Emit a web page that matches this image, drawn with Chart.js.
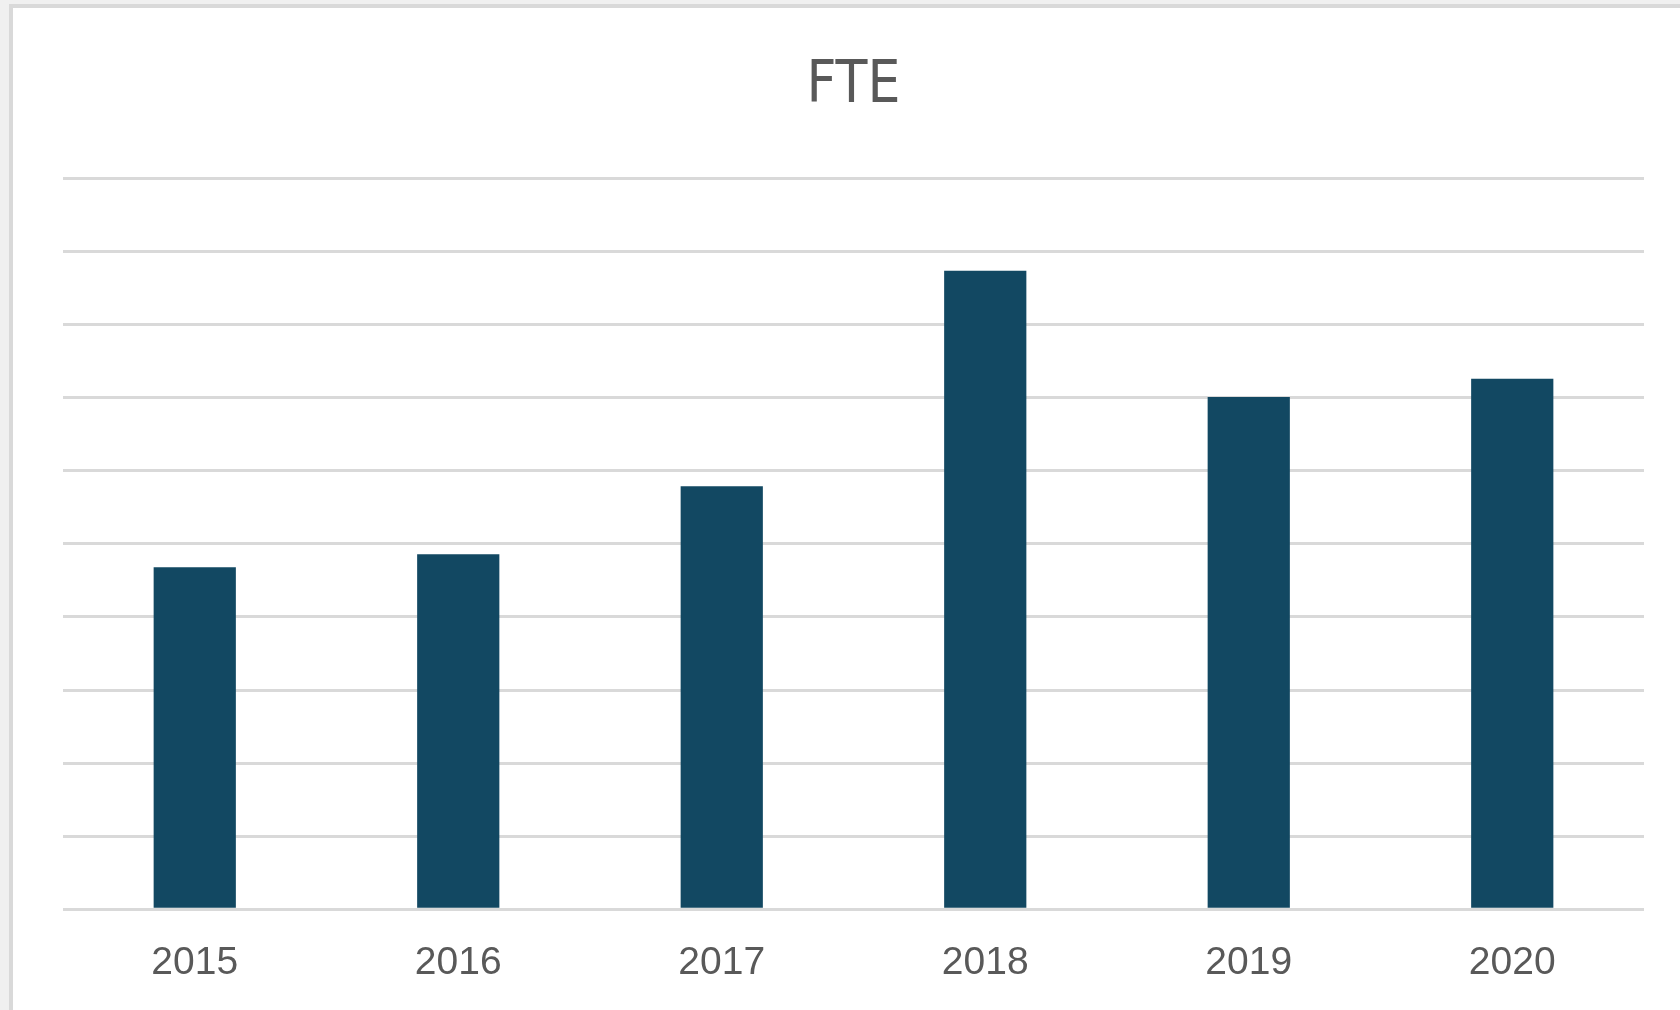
<!DOCTYPE html>
<html>
<head>
<meta charset="utf-8">
<script src="https://cdn.jsdelivr.net/npm/chart.js@4"></script>
<style>
    html, body { margin: 0; padding: 0; background: #f0f0f0; overflow: hidden; width: 1680px; height: 1010px; }
    .panel {
        position: absolute; left: 9px; top: 4px; width: 1700px; height: 1100px;
        background: #fff; border-left: 4px solid #d9d9d9; border-top: 4px solid #d9d9d9;
    }
    .chart-box { position: absolute; left: 0; top: 0; width: 1680px; height: 1050px; }
</style>
</head>
<body>
<div class="panel"></div>
<div class="chart-box">
    <canvas id="fte"></canvas>
</div>
<script>
const years = ['2015', '2016', '2017', '2018', '2019', '2020'];
const fteValues = [4.68, 4.86, 5.79, 8.74, 7.01, 7.26];
const yMin = 0;
const yMax = 10;
const yStep = 1;

const textGrey = '#595959';
const barColor = '#124862';

new Chart(document.getElementById('fte'), {
    type: 'bar',
    data: {
        labels: years,
        datasets: [{
            label: 'FTE',
            data: fteValues,
            backgroundColor: barColor,
            borderWidth: 0,
            barPercentage: 0.312,
            categoryPercentage: 1
        }]
    },
    options: {
        responsive: true,
        maintainAspectRatio: false,
        animation: false,
        layout: {
            padding: { left: 63, right: 36, top: 0, bottom: 40 }
        },
        plugins: {
            legend: { display: false },
            tooltip: { enabled: false },
            title: {
                display: true,
                text: 'FTE',
                color: textGrey,
                font: { family: '"Liberation Sans Narrow", "DejaVu Sans Condensed", sans-serif', size: 58, weight: 'normal', lineHeight: 1.2 },
                padding: { top: 52, bottom: 57 }
            }
        },
        scales: {
            x: {
                grid: { display: false },
                border: { display: false },
                ticks: {
                    color: textGrey,
                    padding: 23,
                    font: { family: '"Liberation Sans", Arial, sans-serif', size: 39 }
                }
            },
            y: {
                min: yMin,
                max: yMax,
                border: { display: false },
                grid: { color: '#d9d9d9', lineWidth: 3, drawTicks: false },
                ticks: { display: false, stepSize: yStep }
            }
        }
    }
});
</script>
</body>
</html>
